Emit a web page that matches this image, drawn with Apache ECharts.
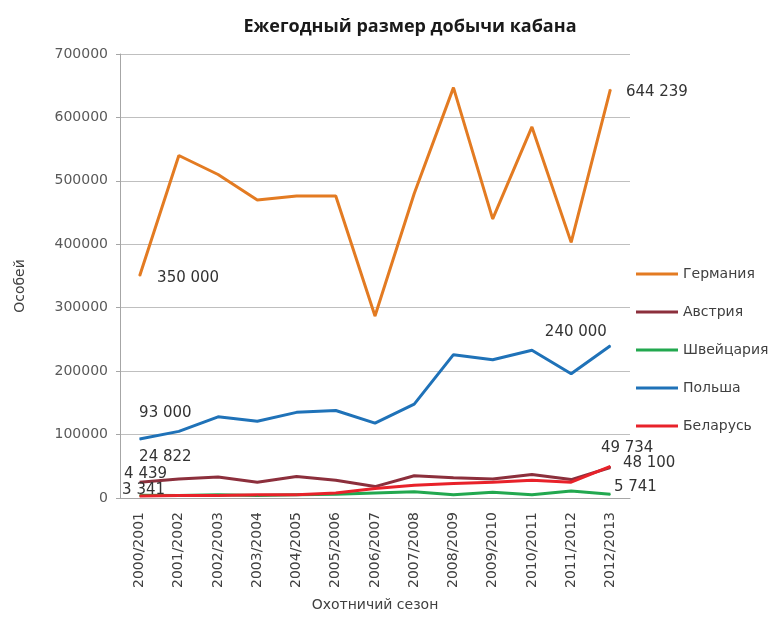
<!DOCTYPE html>
<html><head><meta charset="utf-8">
<script src="https://cdn.jsdelivr.net/npm/echarts@6/dist/echarts.min.js"></script>
<style>html,body{margin:0;padding:0;background:#fff}#c{width:772px;height:621px}</style>
</head><body><div id="c"></div>
<script>
const seasons = ['2000/2001','2001/2002','2002/2003','2003/2004','2004/2005','2005/2006','2006/2007','2007/2008','2008/2009','2009/2010','2010/2011','2011/2012','2012/2013'];
const germany     = [350000, 540000, 510000, 470000, 476000, 476000, 287000, 480000, 647000, 440000, 585000, 403000, 644239];
const austria     = [24822, 30000, 33000, 25000, 34000, 28000, 18000, 35000, 32000, 30000, 37000, 29000, 48100];
const switzerland = [4439, 4000, 5000, 4000, 5000, 6000, 8000, 10000, 5000, 9000, 5000, 11000, 5741];
const poland      = [93000, 105000, 128000, 121000, 135000, 138000, 118000, 148000, 226000, 218000, 233000, 196000, 240000];
const belarus     = [3341, 4000, 4000, 5000, 5000, 8000, 15000, 20000, 23000, 25000, 28000, 25000, 49734];
const yTicks = [0, 100000, 200000, 300000, 400000, 500000, 600000, 700000];

function fmt(v){ return String(v).replace(/\B(?=(\d{3})+(?!\d))/g, ' '); }
const lblFont = {fontFamily:'DejaVu Sans', fontSize:15, color:'#333'};
function withLabels(arr, specs){
  return arr.map((v,i)=>{
    const s = specs[i];
    if(!s) return v;
    return {value:v, label:Object.assign({show:true, formatter:fmt(v)}, lblFont, s)};
  });
}
function ser(name, color, data, width){
  return {name, type:'line', data, symbol:'circle', symbolSize:1, showSymbol:true,
    itemStyle:{color}, lineStyle:{color, width:width||3}, emphasis:{disabled:true}, animation:false, z:2};
}
const chart = echarts.init(document.getElementById('c'));
chart.setOption({
  animation:false,
  title:{text:'Ежегодный размер добычи кабана', left:405, textAlign:'center', top:13,
    textStyle:{fontFamily:'Open Sans', fontSize:18, fontWeight:'bold', color:'#1a1a1a'}},
  grid:{left:120, right:142, top:54, bottom:123},
  legend:{orient:'vertical', left:631, top:262, itemGap:24, itemWidth:42, itemHeight:3, icon:'rect',
    textStyle:{fontFamily:'DejaVu Sans', fontSize:14, color:'#404040'},
    data:['Германия','Австрия','Швейцария','Польша','Беларусь']},
  xAxis:{type:'category', data:seasons, boundaryGap:true,
    name:'Охотничий сезон', nameLocation:'middle', nameGap:100,
    nameTextStyle:{fontFamily:'DejaVu Sans', fontSize:14, color:'#404040'},
    axisLine:{lineStyle:{color:'#a6a6a6'}}, axisTick:{show:false},
    axisLabel:{rotate:90, interval:0, fontFamily:'DejaVu Sans', fontSize:14, color:'#404040', margin:14}},
  yAxis:{type:'value', min:yTicks[0], max:yTicks[yTicks.length-1], interval:yTicks[1]-yTicks[0],
    name:'Особей', nameLocation:'middle', nameGap:93, nameRotate:90,
    nameTextStyle:{fontFamily:'DejaVu Sans', fontSize:14, color:'#404040', padding:[0,20,0,0]},
    axisLine:{show:true, lineStyle:{color:'#a6a6a6'}},
    axisTick:{show:true, length:4, lineStyle:{color:'#a6a6a6'}},
    splitLine:{lineStyle:{color:'#bfbfbf'}},
    axisLabel:{fontFamily:'DejaVu Sans', fontSize:14, color:'#595959', margin:12,
      formatter:v=>String(v)}},
  series:[
    ser('Германия','#e37b22', withLabels(germany,{0:{position:'right',offset:[12,2]},12:{position:'right',offset:[10,3]}})),
    ser('Австрия','#8c2f3c', withLabels(austria,{0:{position:'right',offset:[-6,-25]},12:{position:'right',offset:[7,-4]}})),
    ser('Швейцария','#22a84f', withLabels(switzerland,{0:{position:'right',offset:[-21,-21]},12:{position:'right',offset:[-2,-7]}})),
    ser('Польша','#1f72b8', withLabels(poland,{0:{position:'right',offset:[-6,-26]},12:{position:'left',offset:[2,-14]}})),
    ser('Беларусь','#e8222a', withLabels(belarus,{0:{position:'right',offset:[-23,-6]},12:{position:'right',offset:[-15,-18]}}))
  ]
});
</script></body></html>
